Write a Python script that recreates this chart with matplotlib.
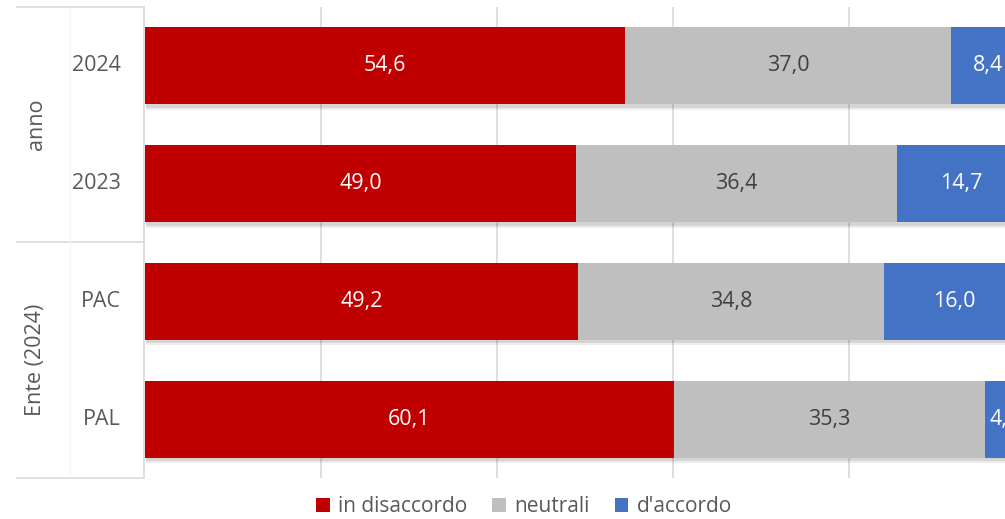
import matplotlib
matplotlib.use("Agg")
import matplotlib.pyplot as plt
from matplotlib.lines import Line2D
from matplotlib.patches import Patch
import matplotlib.patheffects as pe

plt.rcParams['font.family'] = ['Open Sans', 'DejaVu Sans']

categories = ["2024", "2023", "PAC", "PAL"]
groups = ["anno", "Ente (2024)"]
disaccordo = [54.6, 49.0, 49.2, 60.1]
neutrali = [37.0, 36.4, 34.8, 35.3]
accordo = [8.4, 14.7, 16.0, 4.6]
series_names = ["in disaccordo", "neutrali", "d'accordo"]
colors = ["#C00000", "#BFBFBF", "#4472C4"]
text_colors = ["white", "#404040", "white"]

FS = 15.5
W, H = 1005, 519
fig = plt.figure(figsize=(W / 100, H / 100), dpi=100)

# plot area in pixels: x 145..1025 (0..100), y 7..478
left, right, top, bottom = 145, 1025, 7, 478
ax = fig.add_axes([left / W, 1 - bottom / H, (right - left) / W, (bottom - top) / H])
ax.set_xlim(0, 100)
ax.set_ylim(len(categories) - 0.5, -0.5)

for x in [20, 40, 60, 80]:
    ax.axvline(x, color="#D9D9D9", lw=1.2, zorder=0)

# soft drop shadow under each bar segment
shadow = [pe.SimplePatchShadow(offset=(1.0, -4.0), shadow_rgbFace="black", alpha=0.07),
          pe.SimplePatchShadow(offset=(1.0, -2.5), shadow_rgbFace="black", alpha=0.10),
          pe.Normal()]
ypos = range(len(categories))
starts = [0.0] * len(categories)
for vals, name, col, tcol in zip([disaccordo, neutrali, accordo], series_names, colors, text_colors):
    bars = ax.barh(ypos, vals, left=starts, height=0.655, color=col, zorder=2, label=name)
    for b in bars:
        b.set_path_effects(shadow)
    for y, s, v in zip(ypos, starts, vals):
        ax.text(s + v / 2, y, f"{v:.1f}".replace(".", ","), ha="center", va="center",
                color=tcol, fontsize=FS, zorder=3, clip_on=False)
    starts = [s + v for s, v in zip(starts, vals)]

for sp in ax.spines.values():
    sp.set_visible(False)
ax.set_xticks([])
ax.set_yticks([])


def px(x, y):
    return x / W, 1 - y / H


# category table on the left
line_col = "#D9D9D9"
for y in [7, 242, 478]:
    fig.add_artist(Line2D([17 / W, 144 / W], [1 - y / H] * 2, color=line_col, lw=1.2))
fig.add_artist(Line2D([144 / W] * 2, [1 - 7 / H, 1 - 478 / H], color=line_col, lw=1.2))
fig.add_artist(Line2D([70 / W] * 2, [1 - 7 / H, 1 - 478 / H], color="#F2F2F2", lw=0.8))

cat_y = [65.5, 183.5, 301.5, 419.5]
for c, y in zip(categories, cat_y):
    fig.text(*px(121, y), c, ha="right", va="center", fontsize=FS, color="#595959")
for g, y in zip(groups, [124.5, 360]):
    fig.text(*px(36, y), g, ha="center", va="center", rotation=90, fontsize=FS, color="#595959")

handles = [Patch(facecolor=c, edgecolor="none") for c in colors]
fig.legend(handles, series_names, loc="center", bbox_to_anchor=(524 / W, 1 - 507 / H),
           ncol=3, frameon=False, fontsize=15, handlelength=0.65, handleheight=0.65,
           handletextpad=0.4, columnspacing=1.2, labelcolor="#595959")

fig.savefig("out.png", dpi=100)
